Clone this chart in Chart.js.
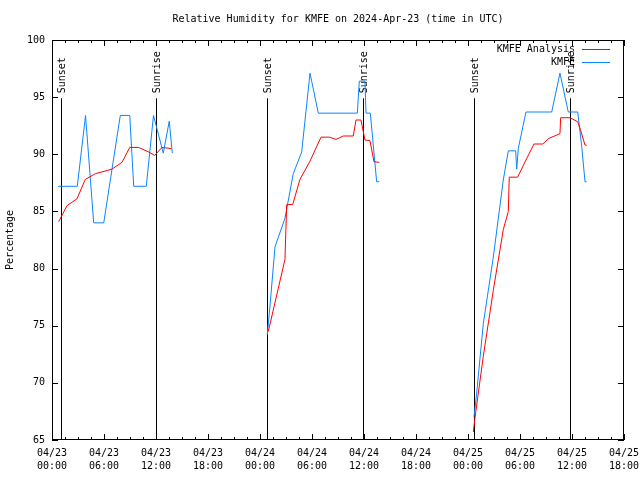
<!DOCTYPE html>
<html>
<head>
<meta charset="utf-8">
<title>Relative Humidity for KMFE</title>
<script src="https://cdn.jsdelivr.net/npm/chart.js@4.4.1/dist/chart.umd.min.js"></script>
<style>
  html, body { margin: 0; padding: 0; background: #fff; }
  canvas { display: block; }
</style>
</head>
<body>
<canvas id="rhChart" width="640" height="480"></canvas>
<script>
const titleText = "Relative Humidity for KMFE on 2024-Apr-23 (time in UTC)";
const yLabelText = "Percentage";

// hours since 04/23 00:00 UTC; a null RH breaks the line
const kmfeHours = [0.69, 2.92, 3.87, 4.81, 5.97, 7.88, 8.97, 9.43, 10.88, 11.71, 12.84, 13.53, 13.88,
  19,
  24.84, 25.15, 25.73, 26.88, 27.84, 28.81, 29.77, 30.73, 35.23, 35.46, 36.11, 36.23, 36.73, 37.46, 37.76,
  43,
  48.69, 49.0, 49.77, 50.92, 52.07, 52.65, 53.5, 53.62, 53.8, 54.69, 57.66, 58.61, 59.57, 60.66, 61.12, 61.5, 61.69];
const kmfeRH = [87.2, 87.2, 93.4, 84.0, 84.0, 93.4, 93.4, 87.2, 87.2, 93.4, 90.1, 92.9, 90.1,
  null,
  74.2, 76.7, 81.9, 84.4, 88.3, 90.2, 97.1, 93.6, 93.6, 96.4, 96.4, 93.6, 93.6, 87.6, 87.6,
  null,
  67.0, 69.1, 75.2, 81.0, 87.75, 90.3, 90.3, 88.7, 90.5, 93.7, 93.7, 97.1, 93.7, 93.7, 90.7, 87.6, 87.6];

const analysisHours = [0.77, 1.73, 2.88, 3.84, 5.0, 6.92, 8.08, 8.97, 10.0, 11.16, 11.85, 12.69, 13.76,
  19,
  24.96, 26.88, 27.08, 27.77, 28.61, 29.77, 31.04, 32.0, 32.77, 33.61, 34.76, 35.08, 35.65, 36.11, 36.69, 37.15, 37.76,
  43,
  48.61, 48.8, 49.76, 50.92, 52.07, 52.65, 52.76, 53.73, 54.69, 55.61, 56.62, 57.35, 58.61, 58.69, 59.76, 60.65, 61.0, 61.5, 61.69];
const analysisRH = [84.1, 85.5, 86.1, 87.8, 88.3, 88.7, 89.3, 90.6, 90.6, 90.2, 89.9, 90.6, 90.5,
  null,
  74.5, 80.8, 85.6, 85.6, 87.8, 89.4, 91.5, 91.5, 91.3, 91.6, 91.6, 93.0, 93.0, 91.25, 91.2, 89.35, 89.3,
  null,
  65.7, 66.9, 72.3, 78.1, 83.4, 85.0, 88.0, 88.0, 89.5, 90.9, 90.9, 91.4, 91.8, 93.2, 93.2, 92.85, 92.1, 90.8, 90.8];

const tickDates = ["04/23", "04/23", "04/23", "04/23", "04/24", "04/24", "04/24", "04/24", "04/25", "04/25", "04/25", "04/25"];
const tickTimes = ["00:00", "06:00", "12:00", "18:00", "00:00", "06:00", "12:00", "18:00", "00:00", "06:00", "12:00", "18:00"];

const sunHours = [1.04, 12.0, 24.81, 35.88, 48.69, 59.77];
const sunLabels = ["Sunset", "Sunrise", "Sunset", "Sunrise", "Sunset", "Sunrise"];

const FONT = '"DejaVu Sans Mono", "Liberation Mono", monospace';
const RED = "#ff0000";
const BLUE = "#0a84ff";

function toPoints(xs, ys) {
  return xs.map((h, i) => ({ x: h, y: ys[i] }));
}

// box, inward ticks, sun lines, legend and title like the gnuplot original
const gnuplotFrame = {
  id: "gnuplotFrame",
  beforeDatasetsDraw(chart) {
    const ctx = chart.ctx;
    const xs = chart.scales.x, ys = chart.scales.y;
    ctx.save();
    ctx.strokeStyle = "#000";
    ctx.lineWidth = 1;
    ctx.fillStyle = "#000";
    ctx.font = "10px " + FONT;
    sunHours.forEach((h, i) => {
      const px = Math.round(xs.getPixelForValue(h)) + 0.5;
      ctx.beginPath();
      ctx.moveTo(px, ys.getPixelForValue(94.9));
      ctx.lineTo(px, ys.getPixelForValue(65));
      ctx.stroke();
      ctx.save();
      ctx.translate(px + 1, ys.getPixelForValue(94.9) - 5);
      ctx.rotate(-Math.PI / 2);
      ctx.textAlign = "left";
      ctx.textBaseline = "middle";
      ctx.fillText(sunLabels[i], 0, 0);
      ctx.restore();
    });
    ctx.restore();
  },
  afterDraw(chart) {
    const ctx = chart.ctx;
    const a = chart.chartArea;
    const xs = chart.scales.x, ys = chart.scales.y;
    ctx.save();
    ctx.strokeStyle = "#000";
    ctx.lineWidth = 1;
    ctx.strokeRect(a.left + 0.5, a.top + 0.5, a.right - a.left - 1, a.bottom - a.top - 1);
    ctx.beginPath();
    for (let h = 0; h <= 66.01; h += 1.5) {
      const px = Math.round(xs.getPixelForValue(h)) + 0.5;
      const len = (Math.abs(h / 6 - Math.round(h / 6)) < 1e-6) ? 6 : 3;
      ctx.moveTo(px, a.bottom); ctx.lineTo(px, a.bottom - len);
      ctx.moveTo(px, a.top); ctx.lineTo(px, a.top + len);
    }
    for (let v = 65; v <= 100; v += 5) {
      const py = Math.round(ys.getPixelForValue(v)) + 0.5;
      ctx.moveTo(a.left, py); ctx.lineTo(a.left + 6, py);
      ctx.moveTo(a.right, py); ctx.lineTo(a.right - 6, py);
    }
    ctx.stroke();

    ctx.fillStyle = "#000";
    ctx.font = "10px " + FONT;
    ctx.textAlign = "center";
    ctx.textBaseline = "middle";
    ctx.fillText(titleText, (a.left + a.right) / 2, 19);

    const legend = [["KMFE Analysis", RED], ["KMFE", BLUE]];
    ctx.textAlign = "right";
    legend.forEach((item, i) => {
      const y = 49.5 + i * 13;
      ctx.fillStyle = "#000";
      ctx.fillText(item[0], 575, y);
      ctx.strokeStyle = item[1];
      ctx.beginPath();
      ctx.moveTo(582, y); ctx.lineTo(610, y);
      ctx.stroke();
    });
    ctx.restore();
  }
};

new Chart(document.getElementById("rhChart").getContext("2d"), {
  type: "line",
  data: {
    datasets: [
      {
        label: "KMFE Analysis",
        data: toPoints(analysisHours, analysisRH),
        borderColor: RED,
        borderWidth: 1,
        pointRadius: 0,
        tension: 0,
        spanGaps: false
      },
      {
        label: "KMFE",
        data: toPoints(kmfeHours, kmfeRH),
        borderColor: BLUE,
        borderWidth: 1,
        pointRadius: 0,
        tension: 0,
        spanGaps: false
      }
    ]
  },
  options: {
    responsive: false,
    animation: false,
    layout: { padding: { left: 0, right: 16, top: 40, bottom: 0 } },
    plugins: { legend: { display: false }, tooltip: { enabled: false } },
    scales: {
      x: {
        type: "linear",
        min: 0,
        max: 66,
        afterFit: s => { s.height = 40; s.paddingLeft = 0; s.paddingRight = 0; },
        afterBuildTicks: s => { s.ticks = tickDates.map((d, i) => ({ value: i * 6 })); },
        ticks: {
          autoSkip: false,
          maxRotation: 0,
          padding: 7,
          color: "#000",
          font: { family: FONT, size: 10, lineHeight: 1.3 },
          callback: v => {
            const i = Math.round(v / 6);
            return [tickDates[i], tickTimes[i]];
          }
        },
        grid: { display: false, drawTicks: false },
        border: { display: false }
      },
      y: {
        min: 65,
        max: 100,
        afterFit: s => { s.width = 52; s.paddingTop = 0; s.paddingBottom = 0; },
        ticks: {
          stepSize: 5,
          padding: 7,
          color: "#000",
          font: { family: FONT, size: 10 }
        },
        title: {
          display: true,
          text: yLabelText,
          color: "#000",
          font: { family: FONT, size: 10 },
          padding: { top: 4, bottom: 0 }
        },
        grid: { display: false, drawTicks: false },
        border: { display: false }
      }
    }
  },
  plugins: [gnuplotFrame]
});
</script>
</body>
</html>
